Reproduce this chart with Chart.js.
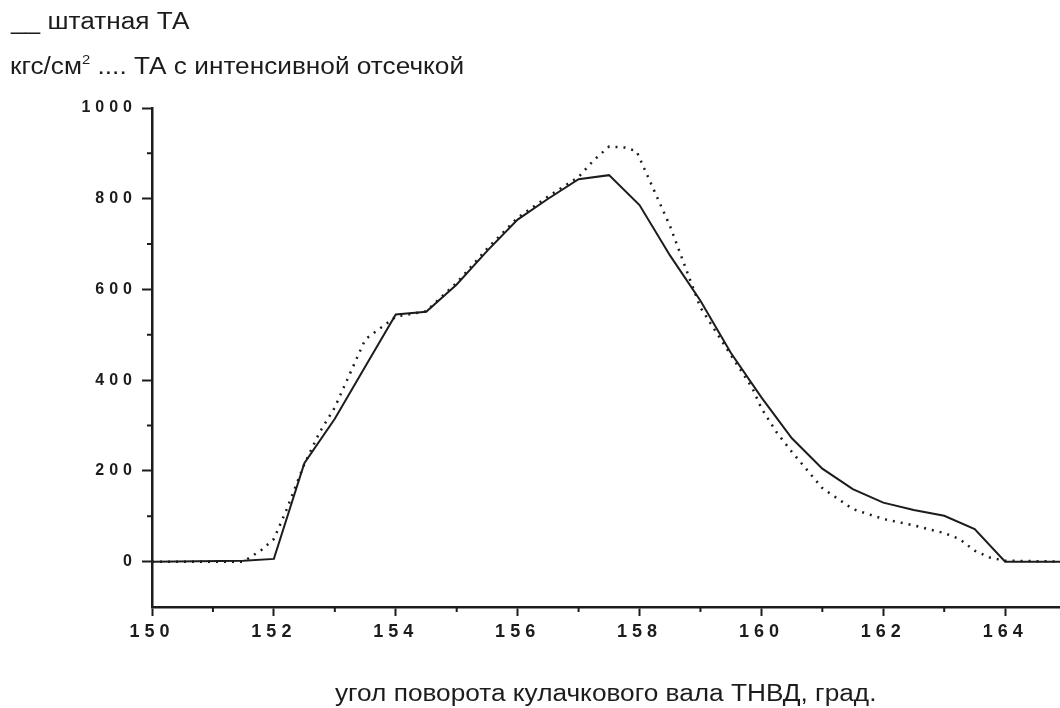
<!DOCTYPE html>
<html lang="ru">
<head>
<meta charset="utf-8">
<title>Давление впрыска</title>
<script src="https://cdn.jsdelivr.net/npm/chart.js@4.4.1/dist/chart.umd.min.js"></script>
<style>
  body { margin: 0; background: #fff; }
  #wrap { position: relative; width: 1060px; height: 708px; overflow: hidden; }
  #chart { position: absolute; left: 0; top: 0; }
  .txt { position: absolute; font-family: "Liberation Sans", Arial, sans-serif; font-size: 23px; line-height: 23px; color: #1c1c1c; white-space: nowrap; transform: scaleX(1.14); transform-origin: 0 0; }
  .txt sup { font-size: 13px; vertical-align: 10px; line-height: 0; }
</style>
</head>
<body>
<div id="wrap">
  <canvas id="chart" width="1060" height="708"></canvas>
  <div class="txt" style="left:11px;top:10px">__ штатная ТА</div>
  <div class="txt" style="left:10px;top:55px">кгс/см<sup>2</sup> .... ТА с интенсивной отсечкой</div>
  <div class="txt" style="left:335px;top:682px">угол поворота кулачкового вала ТНВД, град.</div>
</div>
<script>
/* values */
var solidX = [150, 151.5, 152, 152.5, 153, 153.5, 154, 154.5, 155, 155.5, 156, 156.5, 157, 157.5, 158, 158.5, 159, 159.5, 160, 160.5, 161, 161.5, 162, 162.5, 163, 163.5, 164, 165];
var solidY = [0, 2, 6, 217, 315, 430, 545, 551, 611, 685, 754, 800, 843, 852, 786, 675, 575, 460, 362, 272, 205, 160, 130, 114, 101, 72, 0, 0];

var dottedX = [150, 151.5, 151.8, 152, 152.2, 152.5, 152.75, 153, 153.25, 153.5, 153.75, 154, 154.5, 155, 155.5, 156, 156.5, 157, 157.25, 157.5, 157.75, 157.95, 158.25, 158.5, 158.75, 159, 159.5, 159.85, 160, 160.25, 160.5, 161, 161.5, 162, 162.5, 163, 163.25, 163.5, 163.75, 164, 165];
var dottedY = [0, 0, 26, 50, 112, 215, 285, 340, 415, 490, 515, 540, 552, 615, 690, 758, 805, 848, 885, 915, 913, 905, 815, 740, 650, 560, 455, 383, 338, 285, 242, 162, 116, 94, 80, 63, 50, 24, 9, 2, 0];

var xMajor = [150, 152, 154, 156, 158, 160, 162, 164];
var xMinor = [151, 153, 155, 157, 159, 161, 163];
var yMajor = [0, 200, 400, 600, 800, 1000];
var yMinor = [100, 300, 500, 700, 900];

var ink = '#1c1c1c';

function toPoints(xs, ys) {
  return xs.map(function(x, i) { return {x: x, y: ys[i]}; });
}

// short unlabelled ticks between the labelled ones
var minorTicks = {
  id: 'minorTicks',
  beforeDraw: function(chart) {
    chart.ctx.letterSpacing = '5px';
  },
  afterDraw: function(chart) {
    var ctx = chart.ctx;
    var xs = chart.scales.x;
    var ys = chart.scales.y;
    ctx.save();
    ctx.strokeStyle = ink;
    ctx.lineWidth = 2;
    ctx.beginPath();
    xMinor.forEach(function(v) {
      var px = xs.getPixelForValue(v);
      ctx.moveTo(px, xs.top);
      ctx.lineTo(px, xs.top + 5);
    });
    yMinor.forEach(function(v) {
      var py = ys.getPixelForValue(v);
      ctx.moveTo(ys.right, py);
      ctx.lineTo(ys.right - 5, py);
    });
    ctx.stroke();
    ctx.restore();
  }
};

var tickFont = {family: '"Liberation Sans", Arial, sans-serif', weight: 'bold'};

new Chart(document.getElementById('chart'), {
  type: 'line',
  data: {
    datasets: [{
      label: 'ТА с интенсивной отсечкой',
      data: toPoints(dottedX, dottedY),
      borderColor: ink,
      borderWidth: 2.5,
      borderDash: [2, 6],
      pointRadius: 0,
      tension: 0
    }, {
      label: 'штатная ТА',
      data: toPoints(solidX, solidY),
      borderColor: ink,
      borderWidth: 2,
      pointRadius: 0,
      tension: 0
    }]
  },
  options: {
    responsive: false,
    animation: false,
    layout: {padding: {top: 108, right: 0, bottom: 0, left: 0}},
    plugins: {legend: {display: false}, tooltip: {enabled: false}},
    scales: {
      x: {
        type: 'linear',
        min: 150,
        max: 164.9,
        afterBuildTicks: function(s) { s.ticks = xMajor.map(function(v) { return {value: v}; }); },
        afterFit: function(s) { s.height = 101; },
        grid: {drawOnChartArea: false, tickLength: 9, tickWidth: 2, tickColor: ink},
        border: {color: ink, width: 2.5},
        ticks: {
          color: ink, padding: 5, maxRotation: 0, autoSkip: false,
          font: Object.assign({size: 18}, tickFont),
          callback: function(v) { return String(v); }
        }
      },
      y: {
        type: 'linear',
        min: -100,
        max: 1000,
        afterBuildTicks: function(s) { s.ticks = yMajor.map(function(v) { return {value: v}; }); },
        afterFit: function(s) { s.width = 152; },
        grid: {drawOnChartArea: false, tickLength: 10, tickWidth: 2, tickColor: ink},
        border: {color: ink, width: 2.5},
        ticks: {
          color: ink, padding: 5,
          font: Object.assign({size: 16}, tickFont),
          callback: function(v) { return String(v); }
        }
      }
    }
  },
  plugins: [minorTicks]
});
</script>
</body>
</html>
